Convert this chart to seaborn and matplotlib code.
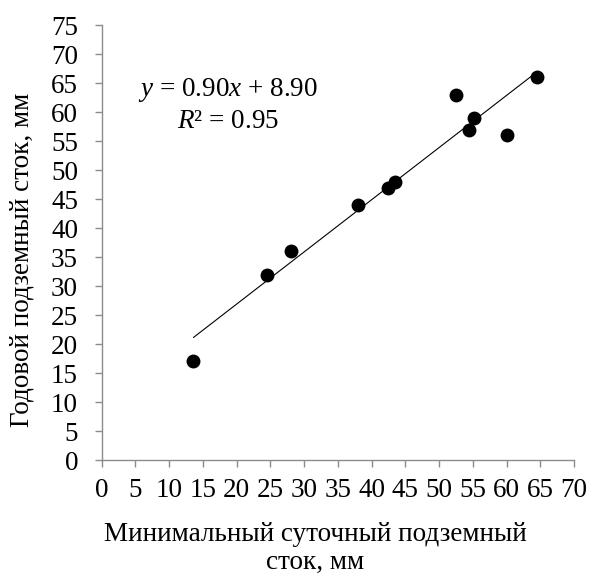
import numpy as np
import pandas as pd
import matplotlib
matplotlib.use("Agg")
import matplotlib.pyplot as plt
import seaborn as sns

# data
min_daily_runoff = [13.6, 24.5, 28.1, 38.0, 42.5, 43.4, 52.5, 54.5, 55.2, 60.0, 64.5]
annual_runoff = [17, 32, 36, 44, 47, 48, 63, 57, 59, 56, 66]
slope = 0.90
intercept = 8.90
r2 = 0.95
x_ticks = list(range(0, 75, 5))
y_ticks = list(range(0, 80, 5))
x_label_lines = ["Минимальный суточный подземный", "сток, мм"]
y_label = "Годовой подземный сток, мм"

sns.set_theme(style="white")
plt.rcParams["font.family"] = ["Liberation Serif", "DejaVu Serif"]
plt.rcParams["mathtext.fontset"] = "custom"
plt.rcParams["mathtext.it"] = "Liberation Serif:italic"
plt.rcParams["mathtext.rm"] = "Liberation Serif"

FS = 19.5
W, H = 589, 577
df = pd.DataFrame({"x": min_daily_runoff, "y": annual_runoff})

fig = plt.figure(figsize=(W / 100, H / 100), dpi=100)
ax = fig.add_axes([101.7 / W, 1 - 460 / H, (574 - 101.7) / W, (460 - 25.3) / H])

sns.scatterplot(data=df, x="x", y="y", ax=ax, color="black", s=100,
                edgecolor="black", linewidth=0, zorder=3)

xl = np.array([min(min_daily_runoff), max(min_daily_runoff)])
ax.plot(xl, slope * xl + intercept, color="black", linewidth=0.8, zorder=2)

ax.set_xlim(0, 70)
ax.set_ylim(0, 75)
ax.set_xticks(x_ticks)
ax.set_yticks(y_ticks)
ax.tick_params(axis="both", direction="out", length=5, width=1, color="#8c8c8c",
               labelsize=FS, labelcolor="black", left=True, bottom=True)
ax.tick_params(axis="y", pad=12)
ax.tick_params(axis="x", pad=8)
for side in ["top", "right"]:
    ax.spines[side].set_visible(False)
for side in ["left", "bottom"]:
    ax.spines[side].set_color("#8c8c8c")
    ax.spines[side].set_linewidth(1)

ax.set_xlabel("")
ax.set_ylabel("")
fig.text(315 / W, 1 - 541 / H, x_label_lines[0], fontsize=FS, ha="center", va="baseline", color="black")
fig.text(315 / W, 1 - 569 / H, x_label_lines[1], fontsize=FS, ha="center", va="baseline", color="black")
fig.text(22 / W, 1 - 260 / H, y_label, fontsize=FS, rotation=90, ha="center", va="center", color="black")

fig.text(228 / W, 1 - 90 / H, f"$y$ = {slope:.2f}$x$ + {intercept:.2f}",
         fontsize=FS, ha="center", va="center", color="black")
fig.text(228 / W, 1 - 122 / H, f"$R$² = {r2:.2f}",
         fontsize=FS, ha="center", va="center", color="black")

fig.savefig("out.png", dpi=100)
